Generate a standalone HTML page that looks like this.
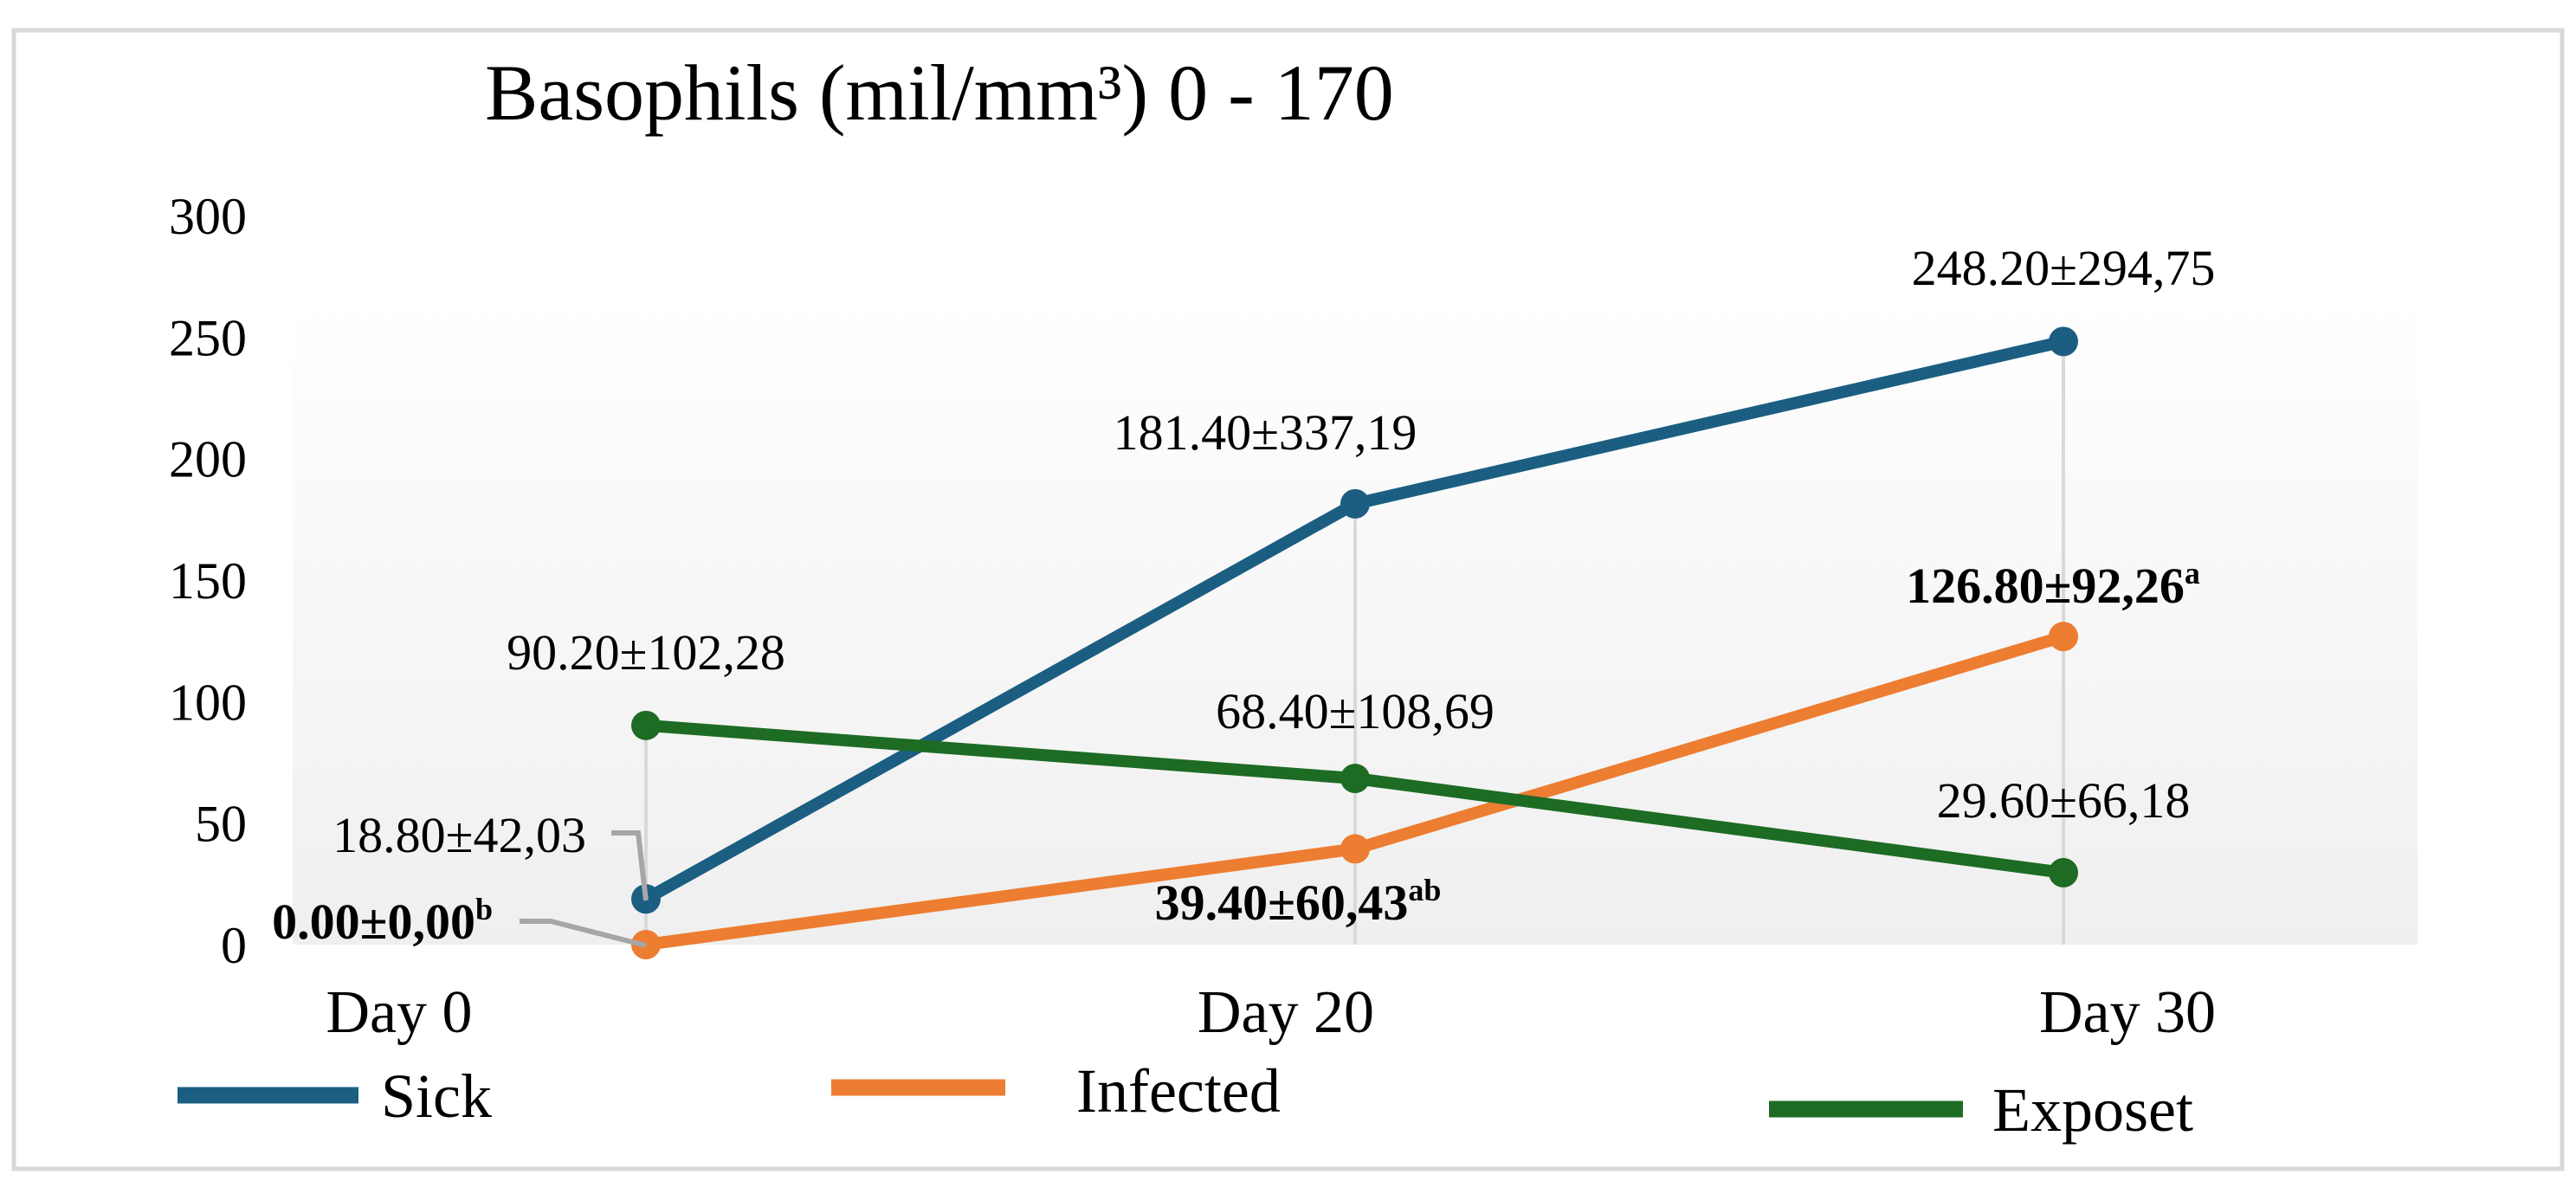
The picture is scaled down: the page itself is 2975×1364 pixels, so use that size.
<!DOCTYPE html>
<html><head><meta charset="utf-8"><style>
body{margin:0;background:#fff}
svg{display:block;font-family:"Liberation Serif",serif}
</style></head><body>
<svg width="2975" height="1364" viewBox="0 0 2975 1364">
<defs><linearGradient id="bg" x1="0" y1="0" x2="0" y2="1"><stop offset="0" stop-color="#ffffff"/><stop offset="1" stop-color="#efefef"/></linearGradient></defs>
<rect x="16" y="35" width="2943" height="1315" fill="#fff" stroke="#d9d9d9" stroke-width="5"/>
<rect x="338" y="347" width="2454" height="744" fill="url(#bg)"/>
<text x="560" y="138" font-size="92">Basophils (mil/mm³) 0 - 170</text>
<g id="yax"></g>
<g id="xax"></g>
<g id="drops"></g>
<g id="series"></g>
<g id="labels"></g>
<g>
<line x1="205" y1="1265" x2="414" y2="1265" stroke="#1b5e82" stroke-width="19"/>
<text x="440" y="1290" font-size="72">Sick</text>
<line x1="960" y1="1256" x2="1161" y2="1256" stroke="#ed7d31" stroke-width="19"/>
<text x="1243" y="1284" font-size="72">Infected</text>
<line x1="2043" y1="1281" x2="2267" y2="1281" stroke="#1e6b24" stroke-width="19"/>
<text x="2301" y="1306" font-size="72">Exposet</text>
</g>
<polyline points="706,962 737,962 746,1040" fill="none" stroke="#a6a6a6" stroke-width="6"/>
<polyline points="600,1064 636,1064 746,1092" fill="none" stroke="#a6a6a6" stroke-width="6"/>
</svg>
<script>
const categories=["Day 0","Day 20","Day 30"];
const sick=[18.8,181.4,248.2];
const infected=[0,39.4,126.8];
const exposet=[90.2,68.4,29.6];
const yTicks=[0,50,100,150,200,250,300];
const sickLabels=["18.80±42,03","181.40±337,19","248.20±294,75"];
const infectedLabels=["0.00±0,00","39.40±60,43","126.80±92,26"];
const infectedSup=["b","ab","a"];
const exposetLabels=["90.20±102,28","68.40±108,69","29.60±66,18"];
const NS="http://www.w3.org/2000/svg";
const xPos=i=>[746,1565,2383][i];
const y=v=>1091-v*(842/300);
function mk(tag,attrs,parent,txt){const e=document.createElementNS(NS,tag);for(const k in attrs)e.setAttribute(k,attrs[k]);if(txt!=null)e.textContent=txt;document.getElementById(parent).appendChild(e);return e;}
yTicks.forEach(t=>{const e=mk('text',{x:285,y:y(t)+21,'font-size':60,'text-anchor':'end'},'yax',String(t));

});
const catX=[461,1485,2457];
categories.forEach((c,i)=>{const e=mk('text',{x:catX[i],y:1192,'font-size':70,'text-anchor':'middle'},'xax',c);

});
categories.forEach((c,i)=>{const top=Math.max(sick[i],infected[i],exposet[i]);
const e=mk('line',{x1:xPos(i),x2:xPos(i),y1:y(top),y2:y(0),stroke:'#d9d9d9','stroke-width':4},'drops');

});
[["sick",sick,"#1b5e82"],["infected",infected,"#ed7d31"],["exposet",exposet,"#1e6b24"]].forEach(([n,d,c])=>{
const pl=mk('polyline',{points:d.map((v,i)=>xPos(i)+','+y(v)).join(' '),fill:'none',stroke:c,'stroke-width':14},'series');


d.forEach((v,i)=>{const p=mk('circle',{cx:xPos(i),cy:y(v),r:17,fill:c},'series');

});});
function lab(x,yy,txt,anchor,bold,sup,name){const e=mk('text',{x:x,y:yy,'font-size':58,'text-anchor':anchor,'font-weight':bold?'bold':'normal'},'labels');
e.appendChild(document.createTextNode(txt));
if(sup){const s=document.createElementNS(NS,'tspan');s.setAttribute('font-size',36);s.setAttribute('dy',-22);s.textContent=sup;e.appendChild(s);}

}
lab(677,984,sickLabels[0],'end',false,null,'label-sick-0');
lab(1461,519,sickLabels[1],'middle',false,null,'label-sick-1');
lab(2383,329,sickLabels[2],'middle',false,null,'label-sick-2');
lab(569,1084,infectedLabels[0],'end',true,infectedSup[0],'label-infected-0');
lab(1499,1062,infectedLabels[1],'middle',true,infectedSup[1],'label-infected-1');
lab(2371,696,infectedLabels[2],'middle',true,infectedSup[2],'label-infected-2');
lab(746,773,exposetLabels[0],'middle',false,null,'label-exposet-0');
lab(1565,841,exposetLabels[1],'middle',false,null,'label-exposet-1');
lab(2383,944,exposetLabels[2],'middle',false,null,'label-exposet-2');
</script>
</body></html>
